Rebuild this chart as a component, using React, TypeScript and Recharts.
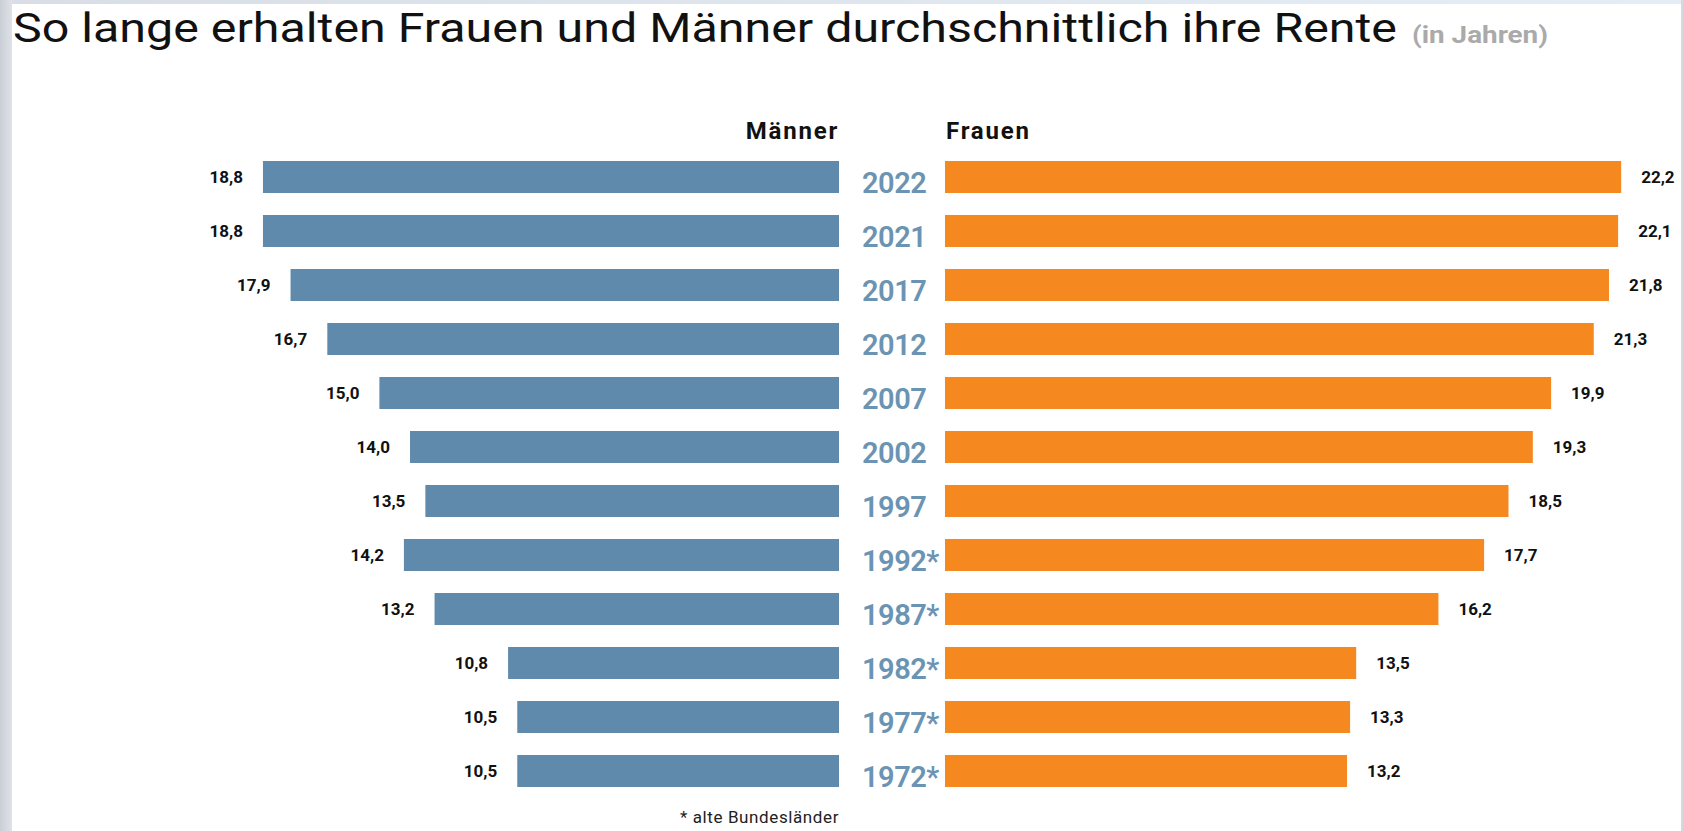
import React from "react";
import { Bar, BarChart, LabelList, XAxis, YAxis } from "recharts";

const years = ["2022", "2021", "2017", "2012", "2007", "2002", "1997", "1992*", "1987*", "1982*", "1977*", "1972*"];
const maenner = [18.8, 18.8, 17.9, 16.7, 15.0, 14.0, 13.5, 14.2, 13.2, 10.8, 10.5, 10.5];
const frauen = [22.2, 22.1, 21.8, 21.3, 19.9, 19.3, 18.5, 17.7, 16.2, 13.5, 13.3, 13.2];

const BLUE = "#5f8aab";
const ORANGE = "#f5891f";
const YEAR_COLOR = "#6b94b4";
const FONT = "Roboto, 'DejaVu Sans', sans-serif";

const data = years.map((year, i) => ({ year, m: maenner[i], f: frauen[i] }));

const fmt = (v: number) => v.toFixed(1).replace(".", ",");

// works whether recharts hands over x/y/width/height directly or inside viewBox
const box = (props: any) => (props.viewBox && props.viewBox.width !== undefined ? props.viewBox : props);

const MaleLabel = (props: any) => {
  const { x, y, width, height } = box(props);
  const left = Math.min(x, x + width);
  return (
    <text x={left - 20} y={y + height / 2 + 6} textAnchor="end" fontFamily={FONT} fontWeight={700} fontSize={17} fill="#111">
      {fmt(props.value)}
    </text>
  );
};

const FemaleLabel = (props: any) => {
  const { x, y, width, height } = box(props);
  const right = Math.max(x, x + width);
  return (
    <text x={right + 20} y={y + height / 2 + 6} textAnchor="start" fontFamily={FONT} fontWeight={700} fontSize={17} fill="#111">
      {fmt(props.value)}
    </text>
  );
};

const YearTick = (props: any) => {
  const { y, payload } = props;
  return (
    <text x={23} y={y + 16} textAnchor="start" fontFamily={FONT} fontWeight={600} fontSize={29} letterSpacing={-0.5} fill={YEAR_COLOR}>
      {payload.value}
    </text>
  );
};

export default function App() {
  return (
    <div style={{ position: "absolute", left: 0, top: 0, width: 1683, height: 831, background: "#fff", overflow: "hidden" }}>
      <div style={{ position: "absolute", left: 0, top: 0, width: 1683, height: 4, background: "linear-gradient(90deg,#d9dee6,#e4edf6)" }} />
      <div style={{ position: "absolute", left: 0, top: 0, width: 12, height: 831, background: "linear-gradient(90deg,#c9ced6,#dfe2e7)" }} />
      <div style={{ position: "absolute", left: 1681, top: 0, width: 2, height: 831, background: "#d6d8dc" }} />

      <div style={{ position: "absolute", left: 0, top: 0 }}>
        <BarChart width={840} height={831} data={data} layout="vertical" margin={{ top: 150, right: 1, bottom: 33, left: 73 }} barSize={32}>
          <XAxis type="number" domain={[0, 25]} reversed hide />
          <YAxis type="category" dataKey="year" hide />
          <Bar dataKey="m" fill={BLUE} isAnimationActive={false}>
            <LabelList dataKey="m" content={MaleLabel} />
          </Bar>
        </BarChart>
      </div>

      <div style={{ position: "absolute", left: 839, top: 0 }}>
        <BarChart width={844} height={831} data={data} layout="vertical" margin={{ top: 150, right: 7, bottom: 33, left: 0 }} barSize={32}>
          <XAxis type="number" domain={[0, 24]} hide />
          <YAxis type="category" dataKey="year" width={106} axisLine={false} tickLine={false} tick={YearTick} interval={0} />
          <Bar dataKey="f" fill={ORANGE} isAnimationActive={false}>
            <LabelList dataKey="f" content={FemaleLabel} />
          </Bar>
        </BarChart>
      </div>

      <svg width={1683} height={831} style={{ position: "absolute", left: 0, top: 0, pointerEvents: "none" }}>
        <text x={13} y={42} fontFamily={FONT} fontSize={40} fill="#111" textLength={1384} lengthAdjust="spacingAndGlyphs">
          So lange erhalten Frauen und Männer durchschnittlich ihre Rente
        </text>
        <text x={1412} y={43} fontFamily={FONT} fontSize={23} fontWeight={700} fill="#aaaaaa" textLength={136} lengthAdjust="spacingAndGlyphs">
          (in Jahren)
        </text>
        <text x={839} y={139} textAnchor="end" fontFamily={FONT} fontSize={24} fontWeight={700} fill="#111" letterSpacing={1.8}>
          Männer
        </text>
        <text x={946} y={139} fontFamily={FONT} fontSize={24} fontWeight={700} fill="#111" letterSpacing={1.8}>
          Frauen
        </text>
        <text x={839} y={823} textAnchor="end" fontFamily={FONT} fontSize={17} fill="#222" letterSpacing={0.6}>
          * alte Bundesländer
        </text>
      </svg>
    </div>
  );
}
